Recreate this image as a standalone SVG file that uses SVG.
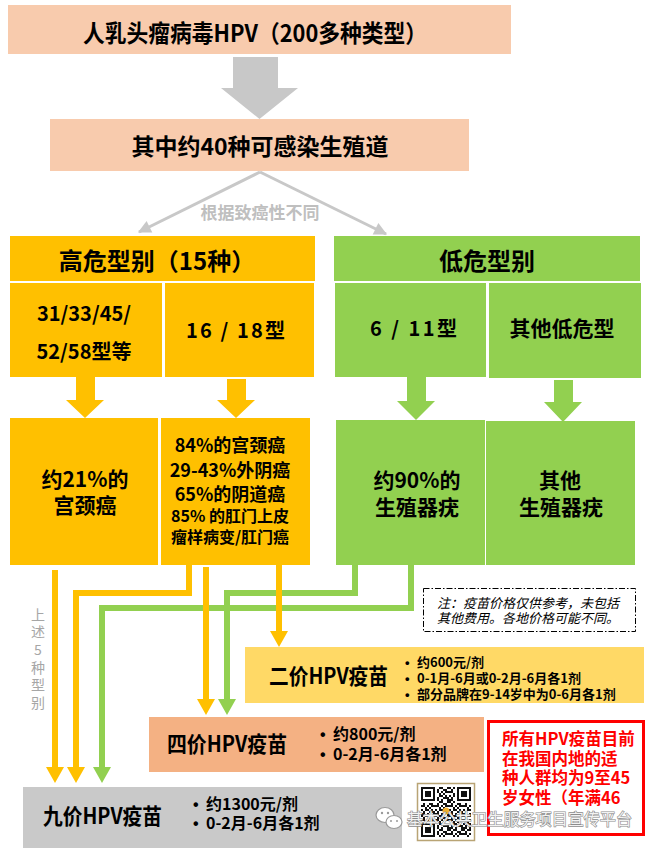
<svg xmlns="http://www.w3.org/2000/svg" width="653" height="848" viewBox="0 0 653 848">
<style>
.t{font-family:"Noto Sans CJK SC","Noto Sans",sans-serif;font-weight:bold;fill:#000}
.c{text-anchor:middle}
.or{fill:#ffc000}
.gr{fill:#92d050}
.ol{fill:none;stroke:#ffc000;stroke-width:6;stroke-linejoin:miter}
.gl{fill:none;stroke:#92d050;stroke-width:6;stroke-linejoin:miter}
.b{font-size:16px}
.s{font-size:13px}
.dot{font-family:"Liberation Sans",sans-serif;font-weight:bold;fill:#000}
.red{fill:#ff0000;font-size:16.5px}
.v{font-family:"Noto Sans CJK SC",sans-serif;font-size:14px;fill:#a6a6a6;text-anchor:middle}
.n{font-family:"Noto Sans CJK SC",sans-serif;font-size:13px;font-style:italic}
</style>
<defs>
<marker id="mo" markerUnits="userSpaceOnUse" markerWidth="20" markerHeight="20" refX="0" refY="0" viewBox="0 -10 18 20" orient="auto" overflow="visible"><path d="M0,-9 L16,0 L0,9 z" fill="#ffc000"/></marker>
<marker id="mg" markerUnits="userSpaceOnUse" markerWidth="20" markerHeight="20" refX="0" refY="0" viewBox="0 -10 18 20" orient="auto" overflow="visible"><path d="M0,-9 L16,0 L0,9 z" fill="#92d050"/></marker>
<marker id="mgy" markerUnits="userSpaceOnUse" markerWidth="14" markerHeight="14" refX="10" refY="0" viewBox="0 -6 12 12" orient="auto" overflow="visible"><path d="M0,-5.5 L11,0 L0,5.5 z" fill="#c8c8c8"/></marker>
<pattern id="qr" patternUnits="userSpaceOnUse" x="421" y="787" width="14" height="14"><path fill="#111" d="M0 0h2v2h-2z M4 0h4v2h-4z M12 0h2v2h-2z M2 2h2v2h-2z M8 2h4v2h-4z M0 4h4v2h-4z M6 4h2v2h-2z M10 4h4v2h-4z M4 6h2v2h-2z M8 6h2v2h-2z M0 8h2v2h-2z M4 8h4v2h-4z M10 8h2v2h-2z M2 10h2v2h-2z M8 10h6v2h-6z M0 12h4v2h-4z M6 12h2v2h-2z M12 12h2v2h-2z"/></pattern>
<g id="finder"><rect x="-2" y="-2" width="18" height="18" fill="#fff"/><rect x="0" y="0" width="14" height="14" fill="#111"/><rect x="2" y="2" width="10" height="10" fill="#fff"/><rect x="4" y="4" width="6" height="6" fill="#111"/></g>
</defs>

<g id="n-top">
<rect x="8" y="5" width="503" height="49" fill="#f8cbad"/>
<text class="t" x="83" y="42" font-size="24" textLength="344" lengthAdjust="spacingAndGlyphs">人乳头瘤病毒HPV（200多种类型）</text>
</g>
<g id="n-big-arrow">
<polygon points="233,57 278,57 278,88 298,88 259.5,119 221,88 233,88" fill="#c8c8c8"/>
</g>
<g id="n-genital">
<rect x="50" y="119" width="419" height="52" fill="#f8cbad"/>
<text class="t c" x="260" y="155" font-size="23">其中约40种可感染生殖道</text>
</g>

<g id="n-high">
<rect class="or" x="10" y="236" width="305" height="45"/>
<text class="t c" x="157" y="270" font-size="24">高危型别（15种）</text>
</g>
<g id="n-high-a">
<rect class="or" x="10" y="283" width="152" height="94"/>
<text class="t c" x="84" y="321" font-size="20">31/33/45/</text>
<text class="t c" x="84" y="359" font-size="20">52/58型等</text>
</g>
<g id="n-high-b">
<rect class="or" x="165" y="283" width="149" height="94"/>
<text class="t" x="186" y="338" font-size="20" textLength="99" xml:space="preserve">16 / 18型</text>
</g>
<g id="n-high-a-res">
<rect class="or" x="10" y="418" width="148" height="147"/>
<text class="t c" x="85" y="487" font-size="21">约21%的</text>
<text class="t c" x="85" y="513" font-size="21">宫颈癌</text>
</g>
<g id="n-high-b-res">
<rect class="or" x="161" y="418" width="149" height="147"/>
<text class="t c" x="230" y="452" font-size="18">84%的宫颈癌</text>
<text class="t c" x="230" y="477" font-size="18">29-43%外阴癌</text>
<text class="t c" x="230" y="501" font-size="18">65%的阴道癌</text>
<text class="t c" x="230" y="522" font-size="16" xml:space="preserve">85% 的肛门上皮</text>
<text class="t c" x="230" y="543" font-size="16">瘤样病变/肛门癌</text>
</g>

<g id="n-low">
<rect class="gr" x="334" y="236" width="306" height="45"/>
<text class="t c" x="487" y="270" font-size="24">低危型别</text>
</g>
<g id="n-low-a">
<rect class="gr" x="335" y="283" width="151" height="94"/>
<text class="t" x="370" y="336" font-size="20" textLength="87" xml:space="preserve">6 / 11型</text>
</g>
<g id="n-low-b">
<rect class="gr" x="489" y="283" width="152" height="95"/>
<text class="t c" x="562" y="336" font-size="21">其他低危型</text>
</g>
<g id="n-low-a-res">
<rect class="gr" x="336" y="420" width="149" height="145"/>
<text class="t c" x="417" y="488" font-size="21">约90%的</text>
<text class="t c" x="417" y="515" font-size="21">生殖器疣</text>
</g>
<g id="n-low-b-res">
<rect class="gr" x="486" y="421" width="149" height="144"/>
<text class="t c" x="560" y="488" font-size="21">其他</text>
<text class="t c" x="561" y="515" font-size="21">生殖器疣</text>
</g>

<g id="n-block-arrows">
<polygon class="or" points="76,377 95,377 95,400 104,400 85,418 66,400 76,400"/>
<polygon class="or" points="227,379 246,379 246,400 255,400 236,418 217,400 227,400"/>
<polygon class="gr" points="407,377 426,377 426,401 435,401 416,420 397,401 407,401"/>
<polygon class="gr" points="554,380 573,380 573,402 582,402 563,422 544,402 554,402"/>
</g>

<g id="connectors">
<line x1="260" y1="172" x2="139" y2="232" stroke="#c8c8c8" stroke-width="3" marker-end="url(#mgy)"/>
<line x1="260" y1="172" x2="386" y2="234" stroke="#c8c8c8" stroke-width="3" marker-end="url(#mgy)"/>
<text class="t c" x="260" y="219" font-size="17" style="fill:#bfbfbf">根据致癌性不同</text>
<path class="gl" d="M355,565 V593 H227 V699" marker-end="url(#mg)"/>
<path class="gl" d="M411,565 V608 H102 V767" marker-end="url(#mg)"/>
<path class="ol" d="M55,570 V767" marker-end="url(#mo)"/>
<path class="ol" d="M189,565 V593 H76 V767" marker-end="url(#mo)"/>
<path class="ol" d="M206,567 V699" marker-end="url(#mo)"/>
<path class="ol" d="M279,565 V631" marker-end="url(#mo)"/>
<text class="v" x="38" y="620">上</text>
<text class="v" x="38" y="637">述</text>
<text class="v" x="38" y="655">5</text>
<text class="v" x="38" y="673">种</text>
<text class="v" x="38" y="690">型</text>
<text class="v" x="38" y="708">别</text>
</g>

<g id="n-note">
<rect x="423.5" y="588.5" width="212" height="43" fill="#fff" stroke="#000" stroke-width="1" stroke-dasharray="6 2 1.5 2"/>
<text class="n" x="437" y="608">注：疫苗价格仅供参考，未包括</text>
<text class="n" x="437" y="623">其他费用。各地价格可能不同。</text>
</g>

<g id="n-bivalent">
<rect x="245" y="647" width="399" height="56" fill="#ffd966"/>
<text class="t" x="269" y="684" font-size="22" textLength="119" lengthAdjust="spacingAndGlyphs">二价HPV疫苗</text>
<text class="dot s" x="405" y="667">•</text>
<text class="t s" x="417" y="667">约600元/剂</text>
<text class="dot s" x="405" y="683">•</text>
<text class="t s" x="417" y="683">0-1月-6月或0-2月-6月各1剂</text>
<text class="dot s" x="405" y="699">•</text>
<text class="t s" x="417" y="699">部分品牌在9-14岁中为0-6月各1剂</text>
</g>

<g id="n-quadrivalent">
<rect x="149" y="717" width="335" height="55" fill="#f4b183"/>
<text class="t" x="167" y="752" font-size="22" textLength="120" lengthAdjust="spacingAndGlyphs">四价HPV疫苗</text>
<text class="dot b" x="320" y="740">•</text>
<text class="t b" x="333" y="740">约800元/剂</text>
<text class="dot b" x="320" y="760">•</text>
<text class="t b" x="333" y="760">0-2月-6月各1剂</text>
</g>

<g id="n-nonavalent">
<rect x="23" y="787" width="379" height="61" fill="#c9c9c9"/>
<text class="t" x="43" y="824" font-size="22" textLength="119" lengthAdjust="spacingAndGlyphs">九价HPV疫苗</text>
<text class="dot b" x="193" y="810">•</text>
<text class="t b" x="206" y="810">约1300元/剂</text>
<text class="dot b" x="193" y="829">•</text>
<text class="t b" x="206" y="829">0-2月-6月各1剂</text>
</g>

<g id="n-age">
<rect x="488.5" y="721.5" width="155" height="113" fill="#fff" stroke="#ff0000" stroke-width="3"/>
<text class="t red" x="502" y="745">所有HPV疫苗目前</text>
<text class="t red" x="502" y="764.5">在我国内地的适</text>
<text class="t red" x="502" y="784">种人群均为9至45</text>
<text class="t red" x="502" y="804">岁女性（年满46</text>
</g>

<g id="watermark">
<rect x="417.5" y="783.5" width="57" height="57" fill="#fff" stroke="#b9a475" stroke-width="1.5"/>
<rect x="421" y="787" width="50" height="50" fill="url(#qr)"/>
<use href="#finder" x="421" y="787"/>
<use href="#finder" x="457" y="787"/>
<use href="#finder" x="421" y="823"/>
<circle cx="446" cy="811" r="3.5" fill="#f0b030"/>
<ellipse cx="385" cy="815" rx="9" ry="7.5" fill="#fff" stroke="#9a9a9a" stroke-width="1.2"/>
<ellipse cx="394" cy="822" rx="8" ry="6.5" fill="#fff" stroke="#9a9a9a" stroke-width="1.2"/>
<circle cx="382" cy="813" r="1.2" fill="#9a9a9a"/><circle cx="388" cy="813" r="1.2" fill="#9a9a9a"/>
<circle cx="391" cy="821" r="1" fill="#9a9a9a"/><circle cx="397" cy="821" r="1" fill="#9a9a9a"/>
<text x="407" y="825" font-family="'Noto Sans CJK SC',sans-serif" font-size="16" fill="#f2f2f2" stroke="#8c8c8c" stroke-width="1.2" paint-order="stroke" textLength="225" lengthAdjust="spacingAndGlyphs">基本公共卫生服务项目宣传平台</text>
</g>
</svg>
